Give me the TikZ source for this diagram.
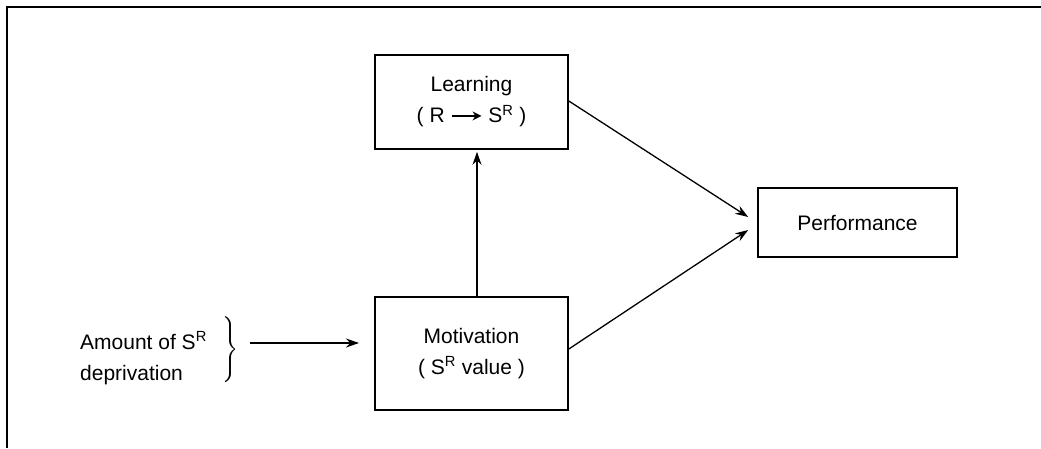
\documentclass[tikz,border=0pt]{standalone}
\usepackage{fontspec}
\setmainfont{Liberation Sans}
\usetikzlibrary{arrows.meta}
\newcommand{\longarr}{\tikz[baseline=-7pt]\draw[line width=2pt,-{Stealth[length=9pt,width=9pt]}] (0pt,0pt) -- (30pt,0pt);}
\begin{document}
\begin{tikzpicture}[x=1pt,y=-1pt,
  box/.style={draw,line width=1.6pt,inner sep=0pt,font=\fontsize{21}{31}\selectfont,align=center},
  conn/.style={line width=1.3pt,-{Stealth[length=13pt,width=9pt]}},
  lbl/.style={font=\fontsize{21}{31}\selectfont,align=left,inner sep=0pt}]
\useasboundingbox (0,0) rectangle (1041,448);
\draw[line width=1.8pt] (7,448) -- (7,7) -- (1041,7);
\node[box,minimum width=193pt,minimum height=94pt] (learn) at (471.5,102)
  {Learning\\( R \longarr\ S\textsuperscript{R} )};
\node[box,minimum width=193pt,minimum height=113pt] (motiv) at (471.5,353.5)
  {Motivation\\( S\textsuperscript{R} value )};
\node[box,minimum width=199pt,minimum height=69pt] (perf) at (857.5,222.5) {Performance};
\node[lbl,anchor=west] (amount) at (80,358) {Amount of S\textsuperscript{R}\\deprivation};
\node[inner sep=0pt] (brace) at (230,350) {\resizebox*{16pt}{66pt}{$\Bigg\}$}};
\coordinate (bstart) at (250,343);
\coordinate (bend) at (359,343);
\draw[conn] (bstart) -- (bend);
\draw[conn] ([xshift=5.5pt]motiv.north) -- ([xshift=5.5pt,yshift=-2pt]learn.south);
\coordinate (p1) at ([shift={(-9,-5.5)}]perf.west);
\coordinate (p2) at ([shift={(-9,7.5)}]perf.west);
\draw[conn] ([yshift=1pt]learn.east) -- (p1);
\draw[conn] ([yshift=4.5pt]motiv.east) -- (p2);
\end{tikzpicture}
\end{document}
